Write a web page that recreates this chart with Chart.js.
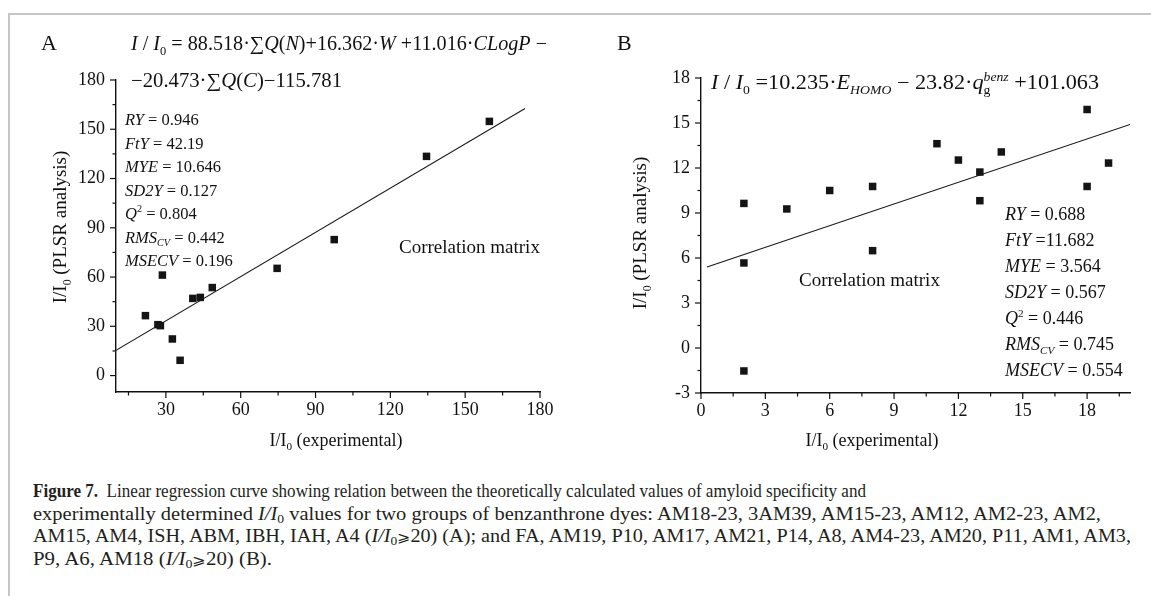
<!DOCTYPE html>
<html>
<head>
<meta charset="utf-8">
<script src="https://cdn.jsdelivr.net/npm/chart.js@4.4.1/dist/chart.umd.min.js"></script>
<style>
html, body { margin: 0; padding: 0; background: #fff; }
#page { position: relative; width: 1151px; height: 596px; overflow: hidden; background: #fff; }
#frame { position: absolute; left: 8px; top: 13px; right: -4px; bottom: -4px; border-top: 2px solid #c6c6c6; border-left: 2px solid #c6c6c6; }
#boxA { position: absolute; left: 0; top: 0; width: 580px; height: 460px; }
#boxB { position: absolute; left: 580px; top: 0; width: 571px; height: 460px; }
#caption { position: absolute; left: 33px; top: 480px; font-family: 'Liberation Serif', 'Times New Roman', serif; font-size: 18px; color: #231f20; }
#caption .ln { white-space: nowrap; width: max-content; transform-origin: 0 50%; height: 22.6px; line-height: 22.6px; }
#caption sub { font-size: 12px; line-height: 0; vertical-align: -3px; }
#caption .ge { font-family: 'DejaVu Serif', 'DejaVu Sans', serif; font-size: 14px; line-height: 0; }
</style>
</head>
<body>
<div id="page">
  <div id="frame"></div>
  <div id="boxA"><canvas id="chartA" width="580" height="460"></canvas></div>
  <div id="boxB"><canvas id="chartB" width="571" height="460"></canvas></div>
  <div id="caption">
    <div class="ln"><b>Figure 7.</b>&nbsp; Linear regression curve showing relation between the theoretically calculated values of amyloid specificity and</div>
    <div class="ln">experimentally determined <i>I/I</i><sub>0</sub> values for two groups of benzanthrone dyes: AM18-23, 3AM39, AM15-23, AM12, AM2-23, AM2,</div>
    <div class="ln">AM15, AM4, ISH, ABM, IBH, IAH, A4 (<i>I/I</i><sub>0</sub><span class="ge">⩾</span>20) (A); and FA, AM19, P10, AM17, AM21, P14, A8, AM4-23, AM20, P11, AM1, AM3,</div>
    <div class="ln">P9, A6, AM18 (<i>I/I</i><sub>0</sub><span class="ge">⩾</span>20) (B).</div>
  </div>
</div>
<script>
// Panel A: I/I0 experimental vs PLSR
const expA = [21.8, 26.8, 27.8, 28.6, 32.6, 35.7, 40.8, 43.8, 48.6, 74.6, 97.5, 134.5, 159.7];
const plsA = [36.5, 31.0, 30.4, 61.2, 22.3, 9.3, 47.0, 47.6, 53.6, 65.3, 82.8, 133.5, 154.8];
const fitAx = [10, 174];
const fitAy = [15.4, 162.7];
// [min, max, minor step, labelled step]
const xAxisA = [10, 180, 15, 30];
const yAxisA = [-10, 180, 15, 30];

// Panel B
const expB = [2, 2, 2, 4, 6, 8, 8, 11, 12, 13, 13, 14, 18, 18, 19];
const plsB = [9.64, 5.67, -1.53, 9.27, 10.5, 10.77, 6.49, 13.62, 12.53, 11.73, 9.82, 13.07, 15.9, 10.77, 12.33];
const fitBx = [0.28, 20];
const fitBy = [5.4, 14.9];
const xAxisB = [0, 20, 1.5, 3];
const yAxisB = [-3, 18, 1.5, 3];

const statsA = [
  [['RY', 'i'], [' = 0.946']],
  [['FtY', 'i'], [' = 42.19']],
  [['MYE', 'i'], [' = 10.646']],
  [['SD2Y', 'i'], [' = 0.127']],
  [['Q', 'i'], ['2', 'p'], [' = 0.804']],
  [['RMS', 'i'], ['CV', 'ib'], [' = 0.442']],
  [['MSECV', 'i'], [' = 0.196']]
];
const statsB = [
  [['RY', 'i'], [' = 0.688']],
  [['FtY', 'i'], [' =11.682']],
  [['MYE', 'i'], [' = 3.564']],
  [['SD2Y', 'i'], [' = 0.567']],
  [['Q', 'i'], ['2', 'p'], [' = 0.446']],
  [['RMS', 'i'], ['CV', 'ib'], [' = 0.745']],
  [['MSECV', 'i'], [' = 0.554']]
];

// caption line right edges in the reference (px from page left)
const captionEnds = [866, 1101, 1131, 272];

const FAM = "'Liberation Serif', 'Times New Roman', serif";

// draw a run of text pieces; style: i italic, b subscript, p superscript, k stack with next
function drawRich(ctx, x, y, parts, size, opt) {
  opt = opt || {};
  let w = 0, stackX = null, stackW = 0;
  const items = parts.map(([t, st = '']) => {
    const small = st.includes('b') || st.includes('p');
    const s = small ? size * 0.62 : size;
    ctx.font = (st.includes('i') ? 'italic ' : '') + s.toFixed(1) + 'px ' + FAM;
    const iw = ctx.measureText(t).width;
    const dy = st.includes('b') ? size * 0.24 : st.includes('p') ? -size * 0.4 : 0;
    let ix;
    if (stackX !== null) {
      ix = stackX;
      w = stackX + Math.max(stackW, iw);
      stackX = null;
    } else if (st.includes('k')) {
      ix = w; stackX = w; stackW = iw;
    } else {
      ix = w; w += iw;
    }
    return { t, f: ctx.font, x: ix, dy };
  });
  const sx = opt.width ? opt.width / w : 1;
  ctx.save();
  ctx.translate(x, y);
  if (opt.rotate) ctx.rotate(opt.rotate);
  let ox = 0;
  if (opt.align === 'center') ox = -w * sx / 2;
  ctx.translate(ox, 0);
  ctx.scale(sx, 1);
  ctx.fillStyle = opt.color || '#111';
  ctx.textBaseline = 'alphabetic';
  ctx.textAlign = 'left';
  items.forEach(it => { ctx.font = it.f; ctx.fillText(it.t, it.x, it.dy); });
  ctx.restore();
}

const notesPlugin = {
  id: 'notes',
  afterDraw(chart, args, o) {
    const ctx = chart.ctx;
    // tick marks: long where labelled, short otherwise
    ctx.save();
    ctx.strokeStyle = '#111';
    ctx.lineWidth = 1.2;
    const ca = chart.chartArea;
    ['x', 'y'].forEach(id => {
      const sc = chart.scales[id];
      sc.ticks.forEach(t => {
        const len = t.label !== '' ? 6 : 3.5;
        const p = sc.getPixelForValue(t.value);
        ctx.beginPath();
        if (id === 'x') { ctx.moveTo(p, ca.bottom); ctx.lineTo(p, ca.bottom + len); }
        else { ctx.moveTo(ca.left - len, p); ctx.lineTo(ca.left, p); }
        ctx.stroke();
      });
    });
    ctx.restore();

    drawRich(ctx, o.letter[1], o.letter[2], [[o.letter[0]]], 22);
    o.eq.forEach(e => drawRich(ctx, e.x, e.y, e.parts, e.size, { width: e.w }));
    o.stats.forEach((s, i) => drawRich(ctx, o.statsX, o.statsY + i * o.statsGap, s, o.statsSize));
    drawRich(ctx, o.corr[0], o.corr[1], [['Correlation matrix']], 19);
    drawRich(ctx, o.xTitle[0], o.xTitle[1], [['I/I'], ['0', 'b'], [' (experimental)']], 18, { align: 'center' });
    drawRich(ctx, o.yTitle[0], o.yTitle[1], [['I/I'], ['0', 'b'], [' (PLSR analysis)']], 19, { align: 'center', rotate: -Math.PI / 2 });
  }
};

function isStep(v, s) { return Math.abs(v / s - Math.round(v / s)) < 1e-6; }

function makePanel(canvasId, xs, ys, fx, fy, xAx, yAx, pad, yW, notes) {
  const tickFont = { family: FAM, size: 18 };
  return new Chart(document.getElementById(canvasId), {
    type: 'scatter',
    data: {
      datasets: [
        {
          data: xs.map((x, i) => ({ x, y: ys[i] })),
          pointStyle: 'rect',
          pointRadius: 5.3,
          backgroundColor: '#141414',
          borderWidth: 0
        },
        {
          type: 'line',
          data: fx.map((x, i) => ({ x, y: fy[i] })),
          borderColor: '#1a1a1a',
          borderWidth: 1.1,
          pointRadius: 0,
          fill: false
        }
      ]
    },
    options: {
      responsive: false,
      animation: false,
      devicePixelRatio: 1,
      events: [],
      layout: { padding: pad },
      plugins: { legend: { display: false }, tooltip: { enabled: false }, notes },
      scales: {
        x: {
          type: 'linear', min: xAx[0], max: xAx[1],
          grid: { display: false, drawTicks: false },
          border: { display: true, color: '#111', width: 1.4 },
          ticks: {
            stepSize: xAx[2], includeBounds: false, autoSkip: false, maxRotation: 0,
            padding: 7, color: '#111', font: tickFont,
            callback: v => isStep(v, xAx[3]) ? String(v) : ''
          },
          afterFit: s => { s.height = 30; }
        },
        y: {
          type: 'linear', min: yAx[0], max: yAx[1],
          grid: { display: false, drawTicks: false },
          border: { display: true, color: '#111', width: 1.4 },
          ticks: {
            stepSize: yAx[2], includeBounds: false, autoSkip: false,
            padding: 11, color: '#111', font: tickFont,
            callback: v => isStep(v, yAx[3]) ? String(v) : ''
          },
          afterFit: s => { s.width = yW; }
        }
      }
    },
    plugins: [notesPlugin]
  });
}

makePanel('chartA', expA, plsA, fitAx, fitAy, xAxisA, yAxisA,
  { top: 80, right: 40, bottom: 38, left: 0 }, 116, {
    letter: ['A', 41, 50],
    eq: [
      { x: 131, y: 50, size: 20, w: 416, parts: [['I', 'i'], [' / '], ['I', 'i'], ['0', 'b'], [' = 88.518·'], ['∑'], ['Q', 'i'], ['('], ['N', 'i'], [')+16.362·'], ['W', 'i'], [' +11.016·'], ['CLogP', 'i'], [' −']] },
      { x: 131, y: 87, size: 20, w: 211, parts: [['−20.473·'], ['∑'], ['Q', 'i'], ['('], ['C', 'i'], [')−115.781']] }
    ],
    stats: statsA, statsX: 125, statsY: 125, statsGap: 23.5, statsSize: 16.5,
    corr: [399, 253],
    xTitle: [336, 446],
    yTitle: [66, 227]
  });

makePanel('chartB', expB, plsB, fitBx, fitBy, xAxisB, yAxisB,
  { top: 78, right: 21, bottom: 37, left: 0 }, 121, {
    letter: ['B', 37, 50],
    eq: [
      { x: 131, y: 89, size: 20, w: 388, parts: [['I', 'i'], [' / '], ['I', 'i'], ['0', 'b'], [' =10.235·'], ['E', 'i'], ['HOMO', 'ib'], [' − 23.82·'], ['q', 'i'], ['g', 'bk'], ['benz', 'ip'], [' +101.063']] }
    ],
    stats: statsB, statsX: 425, statsY: 220, statsGap: 26, statsSize: 18,
    corr: [219, 286],
    xTitle: [292, 446],
    yTitle: [66, 233]
  });

// fit each caption line to its width in the reference
const capLeft = 33;
document.querySelectorAll('#caption .ln').forEach((l, i) => {
  const k = (captionEnds[i] - capLeft) / l.getBoundingClientRect().width;
  l.style.transform = 'scaleX(' + k.toFixed(4) + ')';
});
</script>
</body>
</html>
